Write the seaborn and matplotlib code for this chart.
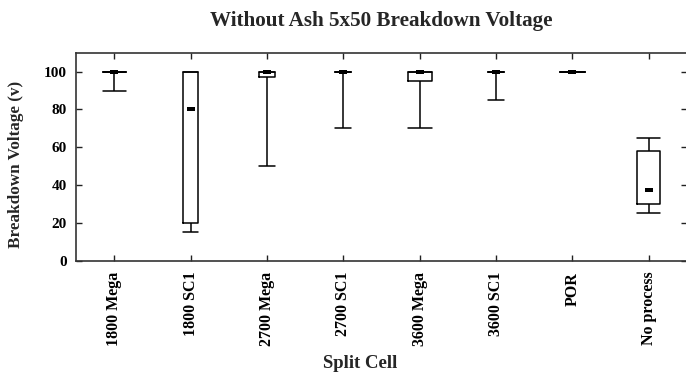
import matplotlib
matplotlib.use("Agg")
import matplotlib.pyplot as plt
import seaborn as sns
import pandas as pd

# Split-cell breakdown voltage summary (five-number summary per cell)
categories = ["1800 Mega", "1800 SC1", "2700 Mega", "2700 SC1",
              "3600 Mega", "3600 SC1", "POR", "No process"]
v_min = [90, 15, 50, 70, 70, 85, 100, 25]
v_q1 = [100, 20, 97, 100, 95, 100, 100, 30]
v_med = [100, 80, 100, 100, 100, 100, 100, 37.5]
v_q3 = [100, 100, 100, 100, 100, 100, 100, 58]
v_max = [100, 100, 100, 100, 100, 100, 100, 65]
box_widths = [0.30, 0.185, 0.22, 0.205, 0.31, 0.21, 0.32, 0.30]

y_ticks = [0, 20, 40, 60, 80, 100]

sns.set_style("ticks")
plt.rcParams["font.family"] = ["Liberation Serif", "DejaVu Serif"]
plt.rcParams["font.weight"] = "bold"

# long table: the five summary values of each cell, so that the
# 0th/25th/50th/75th/100th percentiles reproduce the summary exactly
rows = []
for i, c in enumerate(categories):
    for v in (v_min[i], v_q1[i], v_med[i], v_q3[i], v_max[i]):
        rows.append({"cell": c, "voltage": v})
df = pd.DataFrame(rows)

W, H = 686, 372
fig = plt.figure(figsize=(W / 100, H / 100), dpi=100)
ax_l, ax_r, ax_t, ax_b = 76, 687, 52.7, 260.7
ax = fig.add_axes([ax_l / W, 1 - ax_b / H, (ax_r - ax_l) / W, (ax_b - ax_t) / H])

for i, c in enumerate(categories):
    sns.boxplot(
        data=df[df["cell"] == c], x="cell", y="voltage", order=categories,
        width=box_widths[i], whis=(0, 100), fill=False, color="black",
        linecolor="black", linewidth=1.1, ax=ax,
        medianprops=dict(visible=False),
        capwidths=box_widths[i],
    )

# medians drawn as short heavy dashes
med_df = pd.DataFrame({"cell": categories, "voltage": v_med})
sns.scatterplot(
    data=med_df, x="cell", y="voltage", ax=ax, color="black",
    marker=[(-1, -0.5), (1, -0.5), (1, 0.5), (-1, 0.5)],
    s=26, linewidth=0, zorder=5,
)

ax.set_xlim(0.5 - 1, 7.5)
ax.set_ylim(0, 110)
ax.set_yticks(y_ticks)
ax.tick_params(axis="both", direction="in", length=4.5, width=1.0,
               top=True, right=True, colors="#222222", labelcolor="black")
ax.tick_params(axis="y", pad=6.5, labelsize=11)
ax.tick_params(axis="x", pad=8, labelsize=11.5)
for lab in ax.get_xticklabels():
    lab.set_rotation(90)
    lab.set_va("top")
    lab.set_ha("center")
    lab.set_fontweight("bold")
for lab in ax.get_yticklabels():
    lab.set_fontweight("bold")
for sp in ax.spines.values():
    sp.set_visible(True)
    sp.set_color("#333333")
    sp.set_linewidth(1.2)

ax.set_xlabel("Split Cell", fontsize=13.5, fontweight="bold", va="center")
ax.xaxis.set_label_coords((360 - ax_l) / (ax_r - ax_l), (ax_b - 364) / (ax_b - ax_t))
ax.set_ylabel("Breakdown Voltage (v)", fontsize=12.3, fontweight="bold", va="center")
ax.yaxis.set_label_coords((16 - ax_l) / (ax_r - ax_l), (ax_b - 164) / (ax_b - ax_t))

fig.text(381.5 / W, 1 - 21 / H, "Without Ash 5x50 Breakdown Voltage",
         ha="center", va="center", fontsize=15.2, fontweight="bold")

fig.savefig("out.png", dpi=100, facecolor="white")
